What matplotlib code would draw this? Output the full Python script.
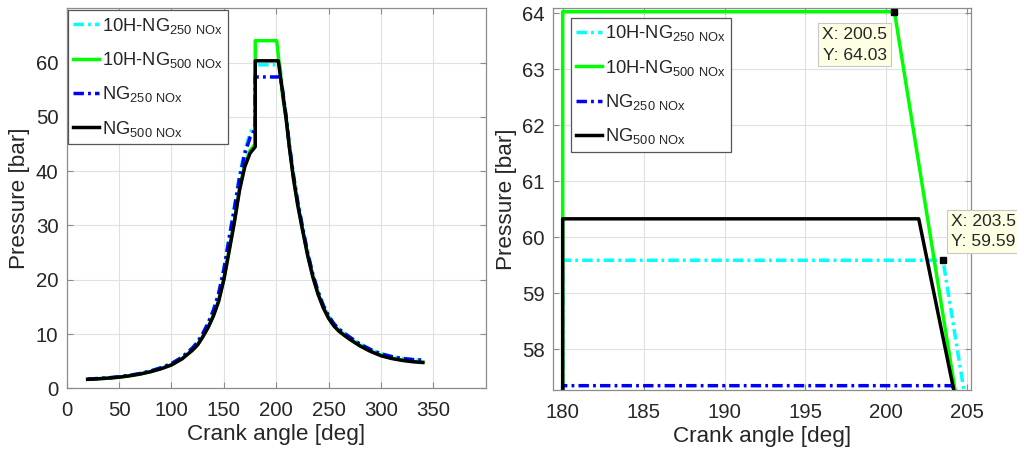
import matplotlib
matplotlib.use("Agg")
import matplotlib.pyplot as plt
import numpy as np

plt.rcParams['font.family'] = ['Liberation Sans', 'DejaVu Sans']
plt.rcParams['mathtext.fontset'] = 'custom'
plt.rcParams['mathtext.rm'] = 'Liberation Sans'
plt.rcParams['lines.scale_dashes'] = False

# ---------------- data ----------------
comp_angle = [20, 30, 40, 50, 60, 70, 80, 90, 100, 110, 120, 125, 130, 135,
              140, 145, 150, 155, 160, 165, 170, 175, 180]
exp_angle = [206.5, 209.5, 212.5, 216.5, 220.5, 225, 230, 235, 240, 245, 250,
             255, 260, 265, 270, 280, 290, 300, 310, 320, 330, 340]

# 10H-NG 250 NOx (cyan)
h250_comp = [1.71, 1.81, 1.94, 2.13, 2.39, 2.73, 3.19, 3.80, 4.57, 5.72, 7.45,
             8.55, 10.15, 12.05, 14.4, 17.5, 22.0, 27.8, 33.4, 39.2, 43.8, 47.0, 48.7]
h250_peak_angle = [180, 203.5]
h250_peak = [59.59, 59.59]
h250_exp = [54.2, 50.0, 44.9, 39.2, 34.4, 29.8, 25.0, 21.0, 17.8, 15.25, 13.35,
            11.9, 10.9, 10.15, 9.45, 8.15, 7.15, 6.37, 5.87, 5.52, 5.32, 5.22]

# 10H-NG 500 NOx (green)
h500_comp = [1.66, 1.76, 1.89, 2.06, 2.31, 2.64, 3.07, 3.62, 4.33, 5.43, 7.05,
             8.05, 9.55, 11.3, 13.4, 16.1, 20.1, 25.4, 30.8, 36.8, 41.2, 43.8, 45.0]
h500_peak_angle = [180, 200.5]
h500_peak = [64.03, 64.03]
h500_exp = [53.2, 49.7, 44.6, 38.7, 33.9, 29.4, 24.6, 20.6, 17.4, 14.9, 13.0,
            11.6, 10.6, 9.85, 9.15, 7.9, 6.88, 6.08, 5.57, 5.22, 4.97, 4.82]

# NG 250 NOx (blue)
n250_comp = [1.70, 1.80, 1.93, 2.12, 2.38, 2.72, 3.18, 3.78, 4.55, 5.70, 7.40,
             8.50, 10.1, 12.0, 14.3, 17.4, 21.8, 27.5, 33.0, 38.8, 43.2, 46.2, 47.8]
n250_peak_angle = [180, 204.1]
n250_peak = [57.35, 57.35]
n250_exp = [54.3, 50.0, 44.9, 39.2, 34.4, 29.8, 25.0, 21.0, 17.8, 15.25, 13.35,
            11.9, 10.9, 10.15, 9.45, 8.15, 7.15, 6.35, 5.85, 5.5, 5.3, 5.2]

# NG 500 NOx (black)
n500_comp = [1.65, 1.75, 1.88, 2.05, 2.30, 2.62, 3.05, 3.60, 4.30, 5.40, 7.00,
             8.00, 9.5, 11.2, 13.3, 16.0, 20.0, 25.2, 30.5, 36.5, 40.8, 43.3, 44.5]
n500_peak_angle = [180, 202.0, 204.5]
n500_peak = [60.33, 60.33, 56.8]
n500_exp = [54.0, 49.6, 44.5, 38.6, 33.8, 29.3, 24.5, 20.5, 17.3, 14.8, 12.9,
            11.5, 10.5, 9.75, 9.05, 7.8, 6.8, 6.0, 5.5, 5.15, 4.9, 4.75]

labels = [r'10H-NG$_{\mathregular{250\ NOx}}$',
          r'10H-NG$_{\mathregular{500\ NOx}}$',
          r'NG$_{\mathregular{250\ NOx}}$',
          r'NG$_{\mathregular{500\ NOx}}$']
colors = ['#00FFFF', '#00FF00', '#0000FF', '#000000']
dashdot = (0, (7.5, 3.0, 2.0, 3.0))
styles = [dashdot, '-', dashdot, '-']

series = [
    (h250_comp, h250_peak_angle, h250_peak, h250_exp),
    (h500_comp, h500_peak_angle, h500_peak, h500_exp),
    (n250_comp, n250_peak_angle, n250_peak, n250_exp),
    (n500_comp, n500_peak_angle, n500_peak, n500_exp),
]

def build(s):
    comp, pa, pk, ex = s
    x = list(comp_angle) + list(pa) + list(exp_angle)
    y = list(comp) + list(pk) + list(ex)
    return np.array(x, float), np.array(y, float)

# data tips: (series index, angle)
tips = [(1, 200.5), (0, 203.5)]

# ---------------- figure ----------------
W, H = 1017, 455
fig = plt.figure(figsize=(W / 100, H / 100), dpi=100)

axL = fig.add_axes([66.7 / W, (H - 388.3) / H, 419 / W, 380 / H])
axR = fig.add_axes([553.3 / W, (H - 390) / H, 417.7 / W, 382 / H])

TICK_FS = 14.7
LAB_FS = 16.2
LEG_FS = 13.2
text_col = '#262626'

for ax in (axL, axR):
    for i, s in enumerate(series):
        x, y = build(s)
        ax.plot(x, y, color=colors[i], linestyle=styles[i], lw=2.5,
                label=labels[i], solid_joinstyle='round')
    ax.grid(True, color='#E0E0E0', lw=0.8)
    ax.set_axisbelow(True)
    for sp in ax.spines.values():
        sp.set_color('#8C8C8C')
        sp.set_linewidth(0.9)
    ax.tick_params(direction='in', length=4, width=0.8, color='#8C8C8C',
                   labelsize=TICK_FS, labelcolor=text_col, top=True, right=True)
    ax.tick_params(axis='x', pad=9)
    ax.tick_params(axis='y', pad=6)
    ax.set_xlabel('Crank angle [deg]', fontsize=LAB_FS, color=text_col, labelpad=3)
    ax.set_ylabel('Pressure [bar]', fontsize=LAB_FS, color=text_col, labelpad=4)

axL.set_xlim(0, 400)
axL.set_ylim(0, 70)
axL.set_xticks(np.arange(0, 351, 50))
axL.set_yticks(np.arange(0, 61, 10))

axR.set_xlim(179.42, 205.23)
axR.set_ylim(57.273, 64.095)
axR.set_xticks(np.arange(180, 206, 5))
axR.set_yticks(np.arange(58, 65, 1))

leg_kw = dict(fontsize=LEG_FS, loc='upper left', borderaxespad=0,
              handlelength=1.4, handletextpad=0.15, labelspacing=0.78,
              borderpad=0.3, fancybox=False, framealpha=1, edgecolor='#555555')
lgL = axL.legend(bbox_to_anchor=(0.003, 0.995), **leg_kw)
lgR = axR.legend(bbox_to_anchor=(0.0417, 0.974), **leg_kw)
for lg in (lgL, lgR):
    lg.get_frame().set_linewidth(0.9)
    for t in lg.get_texts():
        t.set_color(text_col)

# data tips on the zoomed panel
offsets = [((-7.5, -15.5), 'right', 'top'), ((7.5, 11.0), 'left', 'bottom')]
for (si, ang), (off, ha, va) in zip(tips, offsets):
    x, y = build(series[si])
    idx = int(np.argmin(np.abs(x - ang)))
    px, py = x[idx], y[idx]
    axR.plot([px], [py], marker='s', color='black', markersize=4, zorder=10,
             clip_on=False)
    axR.annotate(f'X: {px:.1f}\nY: {py:.2f}', xy=(px, py), xytext=off,
                 textcoords='offset pixels', ha=ha, va=va, fontsize=12.6,
                 color=text_col, linespacing=1.45, annotation_clip=False,
                 bbox=dict(boxstyle='square,pad=0.22', fc='#FFFFE3',
                           ec='#C8C8C8', lw=0.8), zorder=11)

fig.savefig('out.png', dpi=100)
